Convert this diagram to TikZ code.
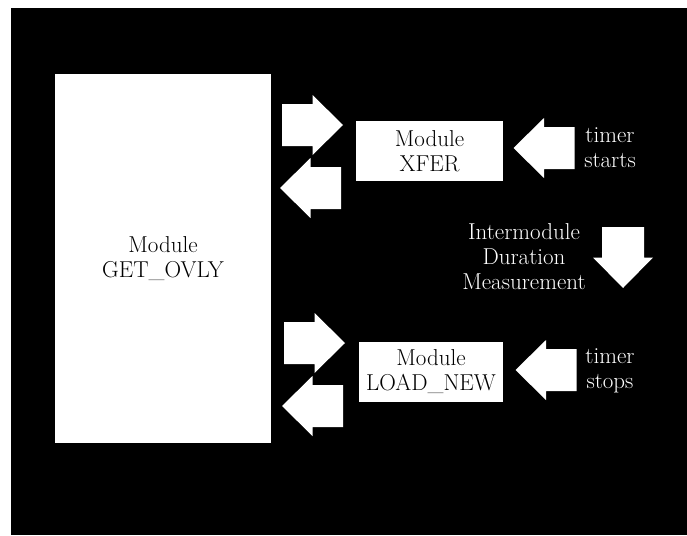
\documentclass[tikz,border=0pt]{standalone}
\usepackage{tikz}
\definecolor{paper}{gray}{1}
\definecolor{ink}{gray}{0}

\tikzset{
  modbox/.style={fill=paper, text=ink, align=center, inner sep=0pt,
    font=\fontsize{23}{25}\selectfont},
  note/.style={text=paper, align=center, inner sep=0pt,
    font=\fontsize{23}{25}\selectfont},
  fatarrow/.pic={
    \fill[paper] (-30.5, -21) -- (0, -21) -- (0, -30) -- (30.5, 0)
      -- (0, 30) -- (0, 21) -- (-30.5, 21) -- cycle;
  }
}

\begin{document}
\begin{tikzpicture}[x=1pt, y=-1pt]
  \useasboundingbox (0, 0) rectangle (687, 535);
  \fill[ink] (11, 8) rectangle (687, 535);

  % module boxes
  \node[modbox, minimum width=216, minimum height=369] (getovly) at (163, 258.5)
    {Module\\GET\_OVLY};
  \node[modbox, minimum width=147, minimum height=60] (xfer) at (429.5, 151)
    {Module\\XFER};
  \node[modbox, minimum width=144, minimum height=60] (loadnew) at (431, 372)
    {Module\\LOAD\_NEW};

  % block arrows
  \pic at (312.5, 125) {fatarrow};
  \pic[rotate=180] at (310.5, 188) {fatarrow};
  \pic at (314.5, 343) {fatarrow};
  \pic[rotate=180] at (312.5, 406) {fatarrow};
  \pic[rotate=180] at (544, 148) {fatarrow};
  \pic[rotate=180] at (546, 370) {fatarrow};
  \pic[rotate=-90] at (623, 257.5) {fatarrow};

  % labels
  \node[note] (tstart) at (610, 148) {timer\\starts};
  \node[note] (tstop) at (610, 371) {timer\\stops};
  \node[note] (imd) at (524, 257) {Intermodule\\Duration\\Measurement};
\end{tikzpicture}
\end{document}
